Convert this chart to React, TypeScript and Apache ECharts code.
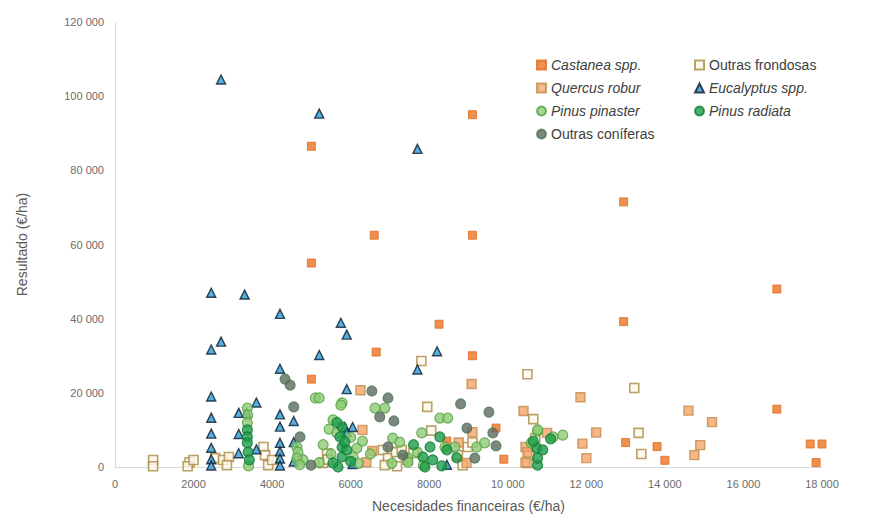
import React, { useEffect, useRef } from "react";
import * as echarts from "echarts";

const xTicks = [0, 2000, 4000, 6000, 8000, 10000, 12000, 14000, 16000, 18000];
const yTicks = [0, 20000, 40000, 60000, 80000, 100000, 120000];

const castanea = [
  [9100, 95000], [5000, 86500], [6600, 62500], [9100, 62500], [5000, 55000], [12950, 71500],
  [16850, 48000], [12950, 39200], [8250, 38500], [6650, 31000], [9100, 30000], [5000, 23700],
  [16850, 15600], [13000, 6600], [13800, 5500], [14000, 1800], [17700, 6200], [18000, 6200],
  [17850, 1200], [9900, 2100], [9700, 10500], [8450, 7000],
];

const outrasFrondosas = [
  [970, 1900], [970, 200], [1900, 1300], [1850, 200], [2000, 1900], [2550, 2400], [2750, 1900],
  [2900, 2700], [2850, 500], [3780, 5400], [3820, 3200], [3900, 500], [4000, 1900], [5400, 3600],
  [5300, 1100], [5420, 2000], [6820, 4600], [6950, 2400], [7150, 4000], [7180, 200], [7300, 4600],
  [7450, 1900], [7600, 3800], [6870, 500], [8050, 9800], [8730, 3200], [8850, 500], [8980, 5400],
  [7800, 28600], [7950, 16200], [10500, 25000], [10650, 12900], [10550, 3200], [10500, 1100],
  [10700, 7800], [9100, 6600], [13220, 21300], [13330, 9200], [13400, 3500],
];

const quercus = [
  [14600, 15200], [15200, 12100], [14900, 5900], [14750, 3200], [12250, 9300], [11900, 6300],
  [12000, 2400], [11850, 18800], [9080, 22400], [10400, 15100], [6250, 20700], [6300, 10000],
  [6550, 4300], [6400, 1300], [9100, 9400], [10450, 5400], [10450, 1200], [10500, 4000],
  [11000, 9200], [8950, 1100], [8750, 6600],
];

const eucalyptus = [
  [2700, 104500], [5200, 95300], [7700, 85800], [2450, 47000], [3300, 46500], [4200, 41300],
  [5750, 38900], [5900, 35700], [2700, 33800], [2450, 31700], [5200, 30200], [8200, 31200],
  [4200, 26500], [7700, 26300], [5900, 21000], [2450, 19000], [3600, 17400], [3150, 14600],
  [3350, 14600], [4200, 14200], [2450, 13300], [4550, 12400], [2450, 9000], [3150, 8900],
  [4200, 10900], [5850, 10800], [6050, 10800], [5900, 9400], [2450, 5200], [3600, 4800],
  [4200, 6500], [4550, 6700], [3150, 3700], [2450, 2100], [2450, 400], [4200, 4200],
  [4200, 2300], [4200, 400], [4550, 1500], [6050, 800], [8450, 600],
];

const pinusPinaster = [
  [3370, 15900], [3380, 14000], [3370, 11900], [3400, 300], [4630, 5400], [4660, 4000],
  [4790, 1900], [4630, 2400], [4700, 600], [5100, 18600], [5200, 18600], [5780, 17300],
  [5750, 16700], [5550, 12700], [5450, 10200], [5650, 9200], [6160, 5100], [6060, 2700],
  [6000, 8000], [6620, 15900], [6870, 15900], [7070, 7800], [7250, 6700], [7460, 2400],
  [7700, 4000], [7460, 1300], [7050, 1000], [7850, 500], [8270, 13200], [8470, 13200],
  [7810, 9200], [8650, 5400], [9210, 5400], [9410, 6500], [8400, 5400], [10760, 9700],
  [11150, 8100], [11400, 8600], [10760, 10000], [10600, 6500], [5300, 6000], [5500, 3500],
  [5200, 1200], [6300, 7000], [6500, 3500], [6200, 1000],
];

const pinusRadiata = [
  [3370, 10000], [3370, 8100], [3370, 6500], [3390, 4000], [3420, 1900], [5780, 10800],
  [5730, 8100], [5780, 5400], [5780, 2700], [5680, 0], [5900, 4600], [5550, 1100],
  [5650, 12000], [5850, 6800], [6000, 1500], [8270, 8100], [8020, 5400], [8450, 4600],
  [7840, 2700], [8090, 1900], [7890, 0], [8320, 300], [7600, 6000], [8700, 2500],
  [10740, 5100], [10890, 4600], [10760, 500], [10760, 2400], [11090, 7600], [10650, 7000],
];

const outrasConiferas = [
  [4330, 23700], [4460, 22100], [4550, 16200], [4710, 8100], [4990, 500], [6540, 20500],
  [6950, 18600], [6740, 13500], [7100, 12400], [6950, 5400], [7330, 3200], [8800, 17000],
  [9520, 14800], [8960, 10500], [9620, 9200], [9700, 5700], [9160, 2400],
];

const fmt = (v: number) =>
  v >= 10000 ? String(v).replace(/\B(?=(\d{3})+(?!\d))/g, " ") : String(v);

const FONT = "'Liberation Sans', Arial, sans-serif";

export default function App() {
  const ref = useRef<HTMLDivElement>(null);
  useEffect(() => {
    if (!ref.current) return;
    const chart = echarts.init(ref.current, undefined, { renderer: "svg" });
    const series = [
      { name: "Castanea spp.", data: castanea, symbol: "rect", symbolSize: 8,
        itemStyle: { color: "#EC7424", borderColor: "#E06A1C", borderWidth: 1 } },
      { name: "Outras frondosas", data: outrasFrondosas, symbol: "rect", symbolSize: 9,
        itemStyle: { color: "#FFF9EE", borderColor: "#A88B3E", borderWidth: 1.6 } },
      { name: "Quercus robur", data: quercus, symbol: "rect", symbolSize: 9,
        itemStyle: { color: "#F4A468", borderColor: "#C08C4C", borderWidth: 1.4 } },
      { name: "Eucalyptus spp.", data: eucalyptus, symbol: "triangle", symbolSize: 9,
        itemStyle: { color: "#2C9CD8", borderColor: "#0D1B2A", borderWidth: 1.4 } },
      { name: "Pinus pinaster", data: pinusPinaster, symbol: "circle", symbolSize: 10,
        itemStyle: { color: "#8FCB74", borderColor: "#52A043", borderWidth: 1.2 } },
      { name: "Pinus radiata", data: pinusRadiata, symbol: "circle", symbolSize: 10,
        itemStyle: { color: "#1C9E48", borderColor: "#137A35", borderWidth: 1.2 } },
      { name: "Outras coníferas", data: outrasConiferas, symbol: "circle", symbolSize: 10,
        itemStyle: { color: "#5E6A62", borderColor: "#4C7A55", borderWidth: 1.2 } },
    ].map((s) => ({ ...s, type: "scatter" }));

    const italic = new Set(["Castanea spp.", "Quercus robur", "Eucalyptus spp.", "Pinus pinaster", "Pinus radiata"]);
    const legendBase = {
      orient: "vertical",
      itemWidth: 9,
      itemHeight: 9,
      itemGap: 9,
      textStyle: {
        fontFamily: FONT,
        fontSize: 14,
        color: "#404040",
        rich: {
          i: { fontStyle: "italic", fontFamily: FONT, fontSize: 14, color: "#404040" },
          n: { fontFamily: FONT, fontSize: 14, color: "#404040" },
        },
      },
      formatter: (name: string) => (italic.has(name) ? `{i|${name}}` : `{n|${name}}`),
      selectedMode: false,
    };

    chart.setOption({
      animation: false,
      backgroundColor: "#ffffff",
      textStyle: { fontFamily: FONT },
      grid: { left: 115, right: 48, top: 22, bottom: 53, containLabel: false },
      legend: [
        { ...legendBase, left: 531, top: 53,
          data: ["Castanea spp.", "Quercus robur", "Pinus pinaster", "Outras coníferas"] },
        { ...legendBase, left: 689, top: 53,
          data: ["Outras frondosas", "Eucalyptus spp.", "Pinus radiata"] },
      ],
      xAxis: {
        type: "value",
        min: xTicks[0],
        max: xTicks[xTicks.length - 1],
        interval: 2000,
        name: "Necesidades financeiras (€/ha)",
        nameLocation: "middle",
        nameGap: 32,
        nameTextStyle: { fontFamily: FONT, fontSize: 14, color: "#595959" },
        axisLine: { show: true, lineStyle: { color: "#D9D9D9", width: 1 } },
        axisTick: { show: false },
        splitLine: { show: false },
        axisLabel: { formatter: fmt, color: "#6B6B6B", fontSize: 11, fontFamily: FONT, margin: 11 },
      },
      yAxis: {
        type: "value",
        min: yTicks[0],
        max: yTicks[yTicks.length - 1],
        interval: 20000,
        name: "Resultado (€/ha)",
        nameLocation: "middle",
        nameGap: 86,
        nameTextStyle: { fontFamily: FONT, fontSize: 14, color: "#595959" },
        axisLine: { show: true, lineStyle: { color: "#D9D9D9", width: 1 } },
        axisTick: { show: false },
        splitLine: { show: false },
        axisLabel: { formatter: fmt, color: "#6B6B6B", fontSize: 11, fontFamily: FONT, margin: 11 },
      },
      series,
    });
    return () => chart.dispose();
  }, []);
  return (
    <div
      ref={ref}
      style={{ position: "fixed", left: 0, top: 0, width: 870, height: 520, background: "#ffffff" }}
    />
  );
}
